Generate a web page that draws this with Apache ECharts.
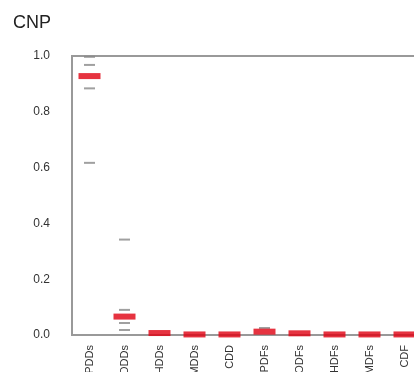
<!DOCTYPE html>
<html>
<head>
<meta charset="utf-8">
<script src="https://cdn.jsdelivr.net/npm/echarts@6/dist/echarts.min.js"></script>
<style>
    html, body { margin: 0; padding: 0; background: #fff; }
    #main { width: 414px; height: 372px; }
</style>
</head>
<body>
<div id="main"></div>
<script>
const categories = ['PDDs', 'ODDs', 'HDDs', 'MDDs', 'CDD', 'PDFs', 'ODFs', 'HDFs', 'MDFs', 'CDF']
const yTicks = [0, 0.2, 0.4, 0.6, 0.8, 1.0]

// red bars (medians)
const medians = [0.928, 0.066, 0.007, 0.002, 0.002, 0.012, 0.006, 0.002, 0.002, 0.002]

// grey dashes: [category index, value]
const outliers = [
    [0, 0.997], [0, 0.968], [0, 0.884], [0, 0.617],
    [1, 0.342], [1, 0.09], [1, 0.043], [1, 0.018],
    [5, 0.025]
]

const myChart = echarts.init(document.getElementById('main'))

const option = {
    animation: false,
    title: {
        text: 'CNP',
        left: 8,
        top: 9,
        textStyle: {
            fontSize: 18,
            fontWeight: 'normal',
            color: '#222',
            fontFamily: 'Liberation Sans'
        }
    },
    grid: {
        left: 72,
        top: 56,
        right: -8,
        bottom: 37,
        outerBoundsMode: 'none',
        containLabel: false,
        show: true,
        borderColor: '#999',
        borderWidth: 2
    },
    xAxis: {
        type: 'category',
        data: categories,
        axisLine: { show: false },
        axisTick: { show: false },
        axisLabel: {
            rotate: 90,
            fontSize: 11,
            color: '#333',
            margin: 10,
            fontFamily: 'Liberation Sans'
        },
        splitLine: { show: false }
    },
    yAxis: {
        type: 'value',
        min: 0,
        max: 1,
        interval: 0.2,
        axisLine: { show: false },
        axisTick: { show: false },
        splitLine: { show: false },
        axisLabel: {
            fontSize: 12,
            color: '#333',
            margin: 22,
            fontFamily: 'Liberation Sans',
            formatter: val => val.toFixed(1)
        }
    },
    series: [
        {
            name: 'outliers',
            type: 'scatter',
            symbol: 'rect',
            symbolSize: [11, 2],
            itemStyle: { color: '#888' },
            data: outliers
        },
        {
            name: 'median',
            type: 'scatter',
            symbol: 'rect',
            symbolSize: [22, 6],
            itemStyle: { color: '#e00010' },
            data: medians.map((v, i) => [i, v])
        }
    ]
}

myChart.setOption(option)
</script>
</body>
</html>
